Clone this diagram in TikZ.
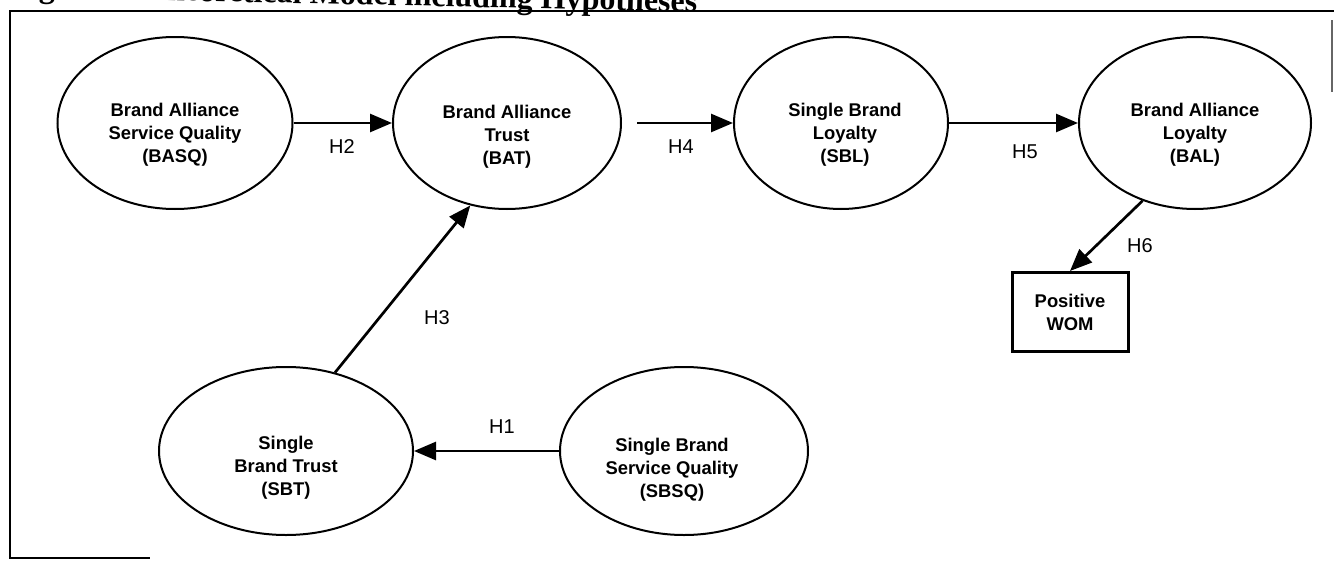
\documentclass[tikz,border=0pt]{standalone}
\usepackage{fontspec}
\setmainfont{Liberation Sans}
\newfontfamily\titlefont{Liberation Serif}
\usetikzlibrary{shapes.geometric,arrows.meta}

\tikzset{
  construct/.style={draw, line width=1pt, ellipse, inner sep=0pt},
  clabel/.style={font=\bfseries\fontsize{9.2}{11.5}\selectfont, align=center, inner sep=0pt},
  hyp/.style={font=\fontsize{10}{12}\selectfont, inner sep=0pt},
  link/.style={line width=1.35pt, -{Triangle[length=11pt,width=9pt]}},
  outcome/.style={draw, line width=1.5pt, minimum width=58pt, minimum height=39.5pt,
    inner sep=0pt, align=center, font=\bfseries\fontsize{9.2}{11.5}\selectfont},
  frameline/.style={line width=1.2pt}
}

\begin{document}
\begin{tikzpicture}[x=0.5pt,y=-0.5pt]
  \useasboundingbox (0,0) rectangle (1334,562);
  \clip (0,0) rectangle (1334,562);

  % caption line, cut by the top edge
  \node[anchor=base west, rotate=-1.25, inner sep=0pt,
        font=\titlefont\bfseries\fontsize{16}{16}\selectfont] (title) at (10,-3)
        {Figure 1: Theoretical Model including Hypotheses};

  % open frame
  \draw[frameline] (1334,11) -- (10,11) -- (10,558) -- (150,558);
  \draw[line width=0.6pt, black!60] (1332,20) -- (1332,92);

  % constructs
  \node[construct, minimum width=117.5pt, minimum height=86pt] (basq) at (175,123) {};
  \node[construct, minimum width=114pt,   minimum height=86pt] (bat)  at (507,123) {};
  \node[construct, minimum width=107pt,   minimum height=86pt] (sbl)  at (841,123) {};
  \node[construct, minimum width=116pt,   minimum height=86pt] (bal)  at (1195,123) {};
  \node[construct, minimum width=127pt,   minimum height=84pt] (sbt)  at (286,451) {};
  \node[construct, minimum width=124pt,   minimum height=84pt] (sbsq) at (684,451) {};
  \node[outcome] (wom) at (1070,312) {Positive\\WOM};

  % construct names
  \node[clabel] (basqtext) at (175,135) {Brand Alliance\\Service Quality\\(BASQ)};
  \node[clabel] (battext)  at (507,137) {Brand Alliance\\Trust\\(BAT)};
  \node[clabel] (sbltext)  at (845,135) {Single Brand\\Loyalty\\(SBL)};
  \node[clabel] (baltext)  at (1195,135) {Brand Alliance\\Loyalty\\(BAL)};
  \node[clabel] (sbttext)  at (286,468) {Single\\Brand Trust\\(SBT)};
  \node[clabel] (sbsqtext) at (672,470) {Single Brand\\Service Quality\\(SBSQ)};

  % hypothesised paths
  \draw[link] (basq.east) -- (bat.west);
  \draw[link, shorten <=7.5pt] (bat.east) -- (sbl.west);
  \draw[link] (sbl.east) -- (bal.west);
  \draw[link] (sbsq.west) -- (sbt.east);
  \draw[link] (sbt.58.2) -- (bat.246.4);
  \draw[link] (bal.236.8) -- (wom.north);

  % hypothesis labels
  \node[hyp] (h1) at (502,427) {H1};
  \node[hyp] (h2) at (342,147) {H2};
  \node[hyp] (h3) at (437,318) {H3};
  \node[hyp] (h4) at (681,147) {H4};
  \node[hyp] (h5) at (1025,152) {H5};
  \node[hyp] (h6) at (1140,246) {H6};
\end{tikzpicture}
\end{document}
